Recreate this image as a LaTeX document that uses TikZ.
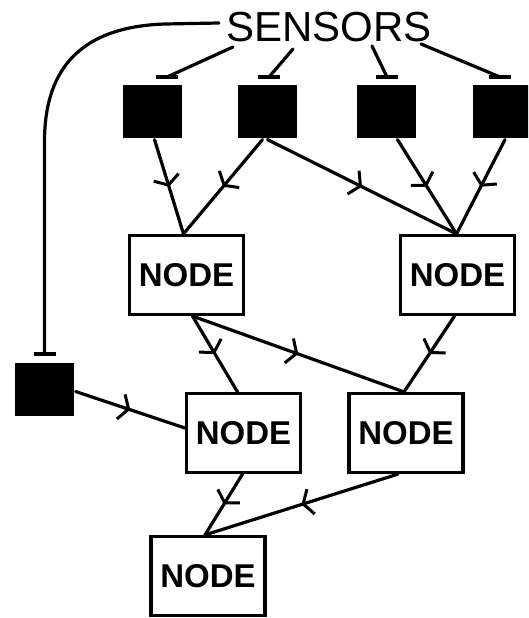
\documentclass[tikz,border=0pt]{standalone}
\usepackage{fontspec}
\setmainfont{Liberation Sans}
\usetikzlibrary{arrows.meta,decorations.markings,calc}
\begin{document}
\begin{tikzpicture}[x=1pt,y=-1pt,line width=3.2pt,
  >={Straight Barb[length=8pt,width=26pt,line width=3pt]},
  sensorbox/.style={fill=black,inner sep=0pt,minimum width=59pt,minimum height=53pt},
  nodebox/.style={draw,fill=white,line width=3.2pt,inner sep=0pt,minimum width=114pt,minimum height=79pt,font=\fontsize{33}{33}\selectfont\bfseries},
  midarrow/.style={postaction={decorate,decoration={markings,mark=at position 0.5 with {\arrow{>}}}}},
  wire/.style={line width=3.2pt,line cap=round}]
\clip (0,0) rectangle (528,618);
\useasboundingbox (0,0) rectangle (528,618);
% title
\node[inner sep=0pt,font=\fontsize{42}{42}\selectfont] (sens) at (329,27) {SENSORS};
% sensors
\node[sensorbox] (s1) at (152.5,111.5) {};
\node[sensorbox] (s2) at (267.5,111.5) {};
\node[sensorbox] (s3) at (386.5,111.5) {};
\node[sensorbox] (s4) at (502,111.5) {};
\node[sensorbox] (s5) at (44.5,389.5) {};
% NODE boxes
\node[nodebox] (n1) at (186.5,275) {NODE};
\node[nodebox] (n2) at (457.5,275) {NODE};
\node[nodebox] (n3) at (243.5,433) {NODE};
\node[nodebox] (n4) at (406,433) {NODE};
\node[nodebox] (n5) at (208,576) {NODE};
% inhibitory bars
\coordinate (b1) at (167,77);
\coordinate (b2) at (269,77);
\coordinate (b3) at (387,77);
\coordinate (b4) at (500,77);
\coordinate (b5) at (44.5,354);
\coordinate (c1) at (233,47);
\coordinate (c2) at (293,49);
\coordinate (c3) at (372,46);
\coordinate (c4) at (421,44);
\coordinate (c0) at (219,23);
\draw[wire] (c1) -- (b1);
\draw[wire] (c2) -- (b2);
\draw[wire] (c3) -- (b3);
\draw[wire] (c4) -- (b4);
\draw[wire] (c0) -- (165,24) .. controls (70,27) and (45,80) .. (44.5,140) -- (b5);
\foreach \b in {b1,b2,b3,b4,b5}
  \draw[line width=3.2pt] ([xshift=-11pt]\b) -- ([xshift=11pt]\b);
% excitatory connections
\draw[wire,midarrow] ([xshift=2pt]s1.south) -- ([xshift=-3pt]n1.north);
\draw[wire,midarrow] ([xshift=-5pt]s2.south) -- ([xshift=-3pt]n1.north);
\draw[wire,midarrow] (s2.south) -- ([xshift=-1pt]n2.north);
\draw[wire,midarrow] ([xshift=11pt]s3.south) -- ([xshift=-1pt]n2.north);
\draw[wire,midarrow] ([xshift=3pt]s4.south) -- ([xshift=-1pt]n2.north);
\draw[wire,midarrow] ([xshift=6pt]n1.south) -- ([xshift=-6pt]n3.north);
\draw[wire,midarrow] ([xshift=6pt]n1.south) -- ([xshift=-2pt]n4.north);
\draw[wire,midarrow] ([xshift=-3pt]n2.south) -- ([xshift=-2pt]n4.north);
\draw[wire,midarrow] ([yshift=-2pt]s5.east) -- ($(n3.west)+(0,-5)$);
\draw[wire,midarrow] ([xshift=-1pt]n3.south) -- ([xshift=-3pt]n5.north);
\draw[wire,midarrow] ([xshift=-8pt]n4.south) -- ([xshift=-3pt]n5.north);
\end{tikzpicture}
\end{document}
